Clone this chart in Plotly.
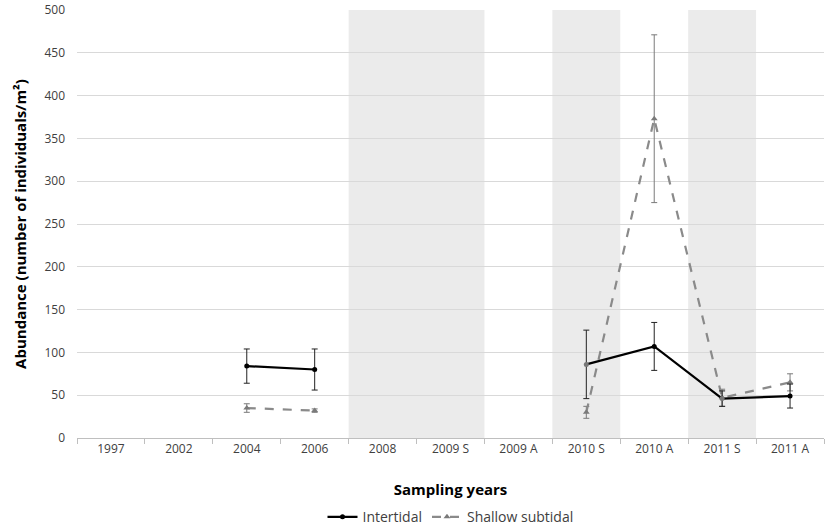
import plotly.graph_objects as go

categories = ["1997", "2002", "2004", "2006", "2008", "2009 S", "2009 A",
              "2010 S", "2010 A", "2011 S", "2011 A"]
intertidal = [None, None, 84, 80, None, None, None, 86, 107, 46, 49]
intertidal_err = [None, None, 20, 24, None, None, None, 40, 28, 9, 14]
subtidal = [None, None, 35, 32, None, None, None, 30, 373, 47, 65]
subtidal_err = [None, None, 5, 2, None, None, None, 7, 98, 10, 10]
shaded = [("2008", "2009 S"), ("2010 S", "2010 S"), ("2011 S", "2011 S")]
y_ticks = [0, 50, 100, 150, 200, 250, 300, 350, 400, 450, 500]

FONT = "Open Sans"
fig = go.Figure()

fig.add_trace(go.Scatter(
    x=categories, y=subtidal, mode="lines+markers", name="Shallow subtidal",
    line=dict(color="#8a8a8a", width=2.2, dash="dash"),
    marker=dict(symbol="triangle-up", size=6, color="#7a7a7a"),
    error_y=dict(type="data", array=subtidal_err, color="#7a7a7a",
                 thickness=1, width=3),
    connectgaps=False))
fig.add_trace(go.Scatter(
    x=categories, y=intertidal, mode="lines+markers", name="Intertidal",
    line=dict(color="#000000", width=2.2),
    marker=dict(symbol="circle", size=5,
                color=["#000", "#000", "#000", "#000", "#000", "#000", "#000",
                       "#777", "#000", "#777", "#000"]),
    error_y=dict(type="data", array=intertidal_err, color="#222222",
                 thickness=1, width=3),
    connectgaps=False))

shapes = []
for a, b in shaded:
    i0 = categories.index(a) - 0.5
    i1 = categories.index(b) + 0.5
    shapes.append(dict(type="rect", xref="x", yref="y", x0=i0, x1=i1,
                       y0=0, y1=500, fillcolor="#ebebeb", line=dict(width=0),
                       layer="below"))

fig.update_layout(
    width=825, height=532,
    margin=dict(l=77, r=1, t=10, b=94, autoexpand=False),
    plot_bgcolor="white", paper_bgcolor="white",
    font=dict(family=FONT, size=12, color="#404040"),
    shapes=shapes,
    showlegend=True,
    legend=dict(orientation="h", x=0.5, xanchor="center", y=-0.185,
                yanchor="middle", traceorder="reversed",
                font=dict(size=14, color="#404040"),
                itemwidth=30),
    xaxis=dict(type="category", categoryorder="array", categoryarray=categories,
               range=[-0.5, 10.5], showgrid=False, showline=True,
               linecolor="#bfbfbf", linewidth=1, ticks="outside",
               tickson="boundaries", ticklen=5, tickcolor="#bfbfbf",
               automargin=False,
               tickfont=dict(size=12, color="#404040"),
               title=dict(text="<b>Sampling years</b>", standoff=28,
                          font=dict(size=15, color="#000000"))),
    yaxis=dict(range=[0, 500], tickvals=y_ticks, showgrid=True,
               gridcolor="#d9d9d9", gridwidth=1, zeroline=False,
               showline=False, ticks="", ticklen=0, ticklabelstandoff=11,
               automargin=False,
               tickfont=dict(size=12, color="#404040"),
               title=dict(text="<b>Abundance (number of individuals/m²)</b>",
                          standoff=14, font=dict(size=15, color="#000000"))),
)

fig.write_html("out.html", config={"displayModeBar": False},
               post_script="document.body.style.margin='0';"
                           "document.body.style.overflow='hidden';")
